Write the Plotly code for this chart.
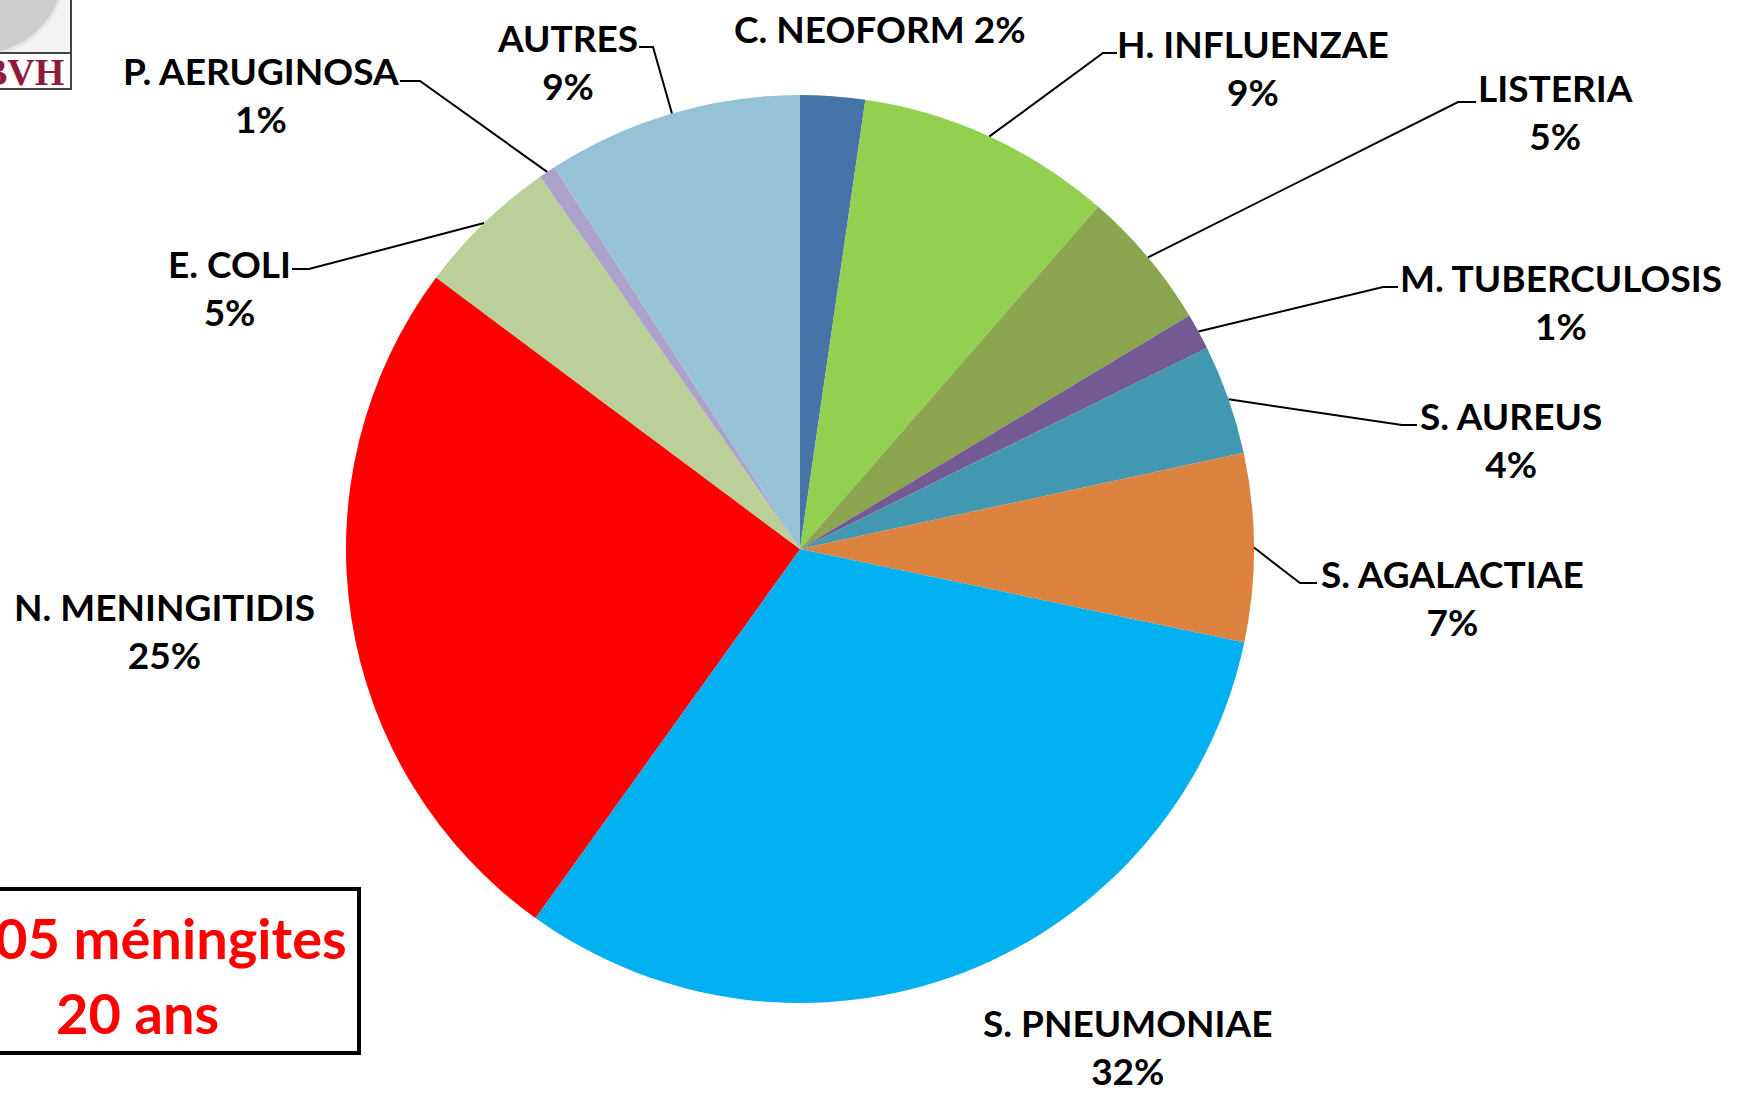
import math
import plotly.graph_objects as go

W, H = 1742, 1096

# ---------------- data ----------------
labels = ["C. NEOFORM", "H. INFLUENZAE", "LISTERIA", "M. TUBERCULOSIS", "S. AUREUS",
          "S. AGALACTIAE", "S. PNEUMONIAE", "N. MENINGITIDIS", "E. COLI",
          "P. AERUGINOSA", "AUTRES"]
values = [2.3, 9.1, 5.0, 1.3, 3.9, 6.7, 31.6, 25.3, 5.1, 0.6, 9.1]
colors = ["#4674A8", "#92D050", "#8BA64F", "#735A93", "#4298B0", "#DC843F",
          "#00B0F0", "#FF0000", "#BBCF98", "#ADA2C9", "#95C3D5"]
box_line1 = "05 méningites"
box_line2 = "20 ans"
logo_text = "BVH"

# ---------------- layout (pixel positions) ----------------
cx, cy, R = 800, 549, 454
# label centre (x, y), single line?, leader (elbow_x, elbow_y, end_x) or None
label_pos = {
    "C. NEOFORM": (880, 29, True, None),
    "H. INFLUENZAE": (1253, 68, False, (1103, 53, 1117)),
    "LISTERIA": (1555, 112, False, (1458, 102, 1476)),
    "M. TUBERCULOSIS": (1561, 301, False, (1383, 287, 1398)),
    "S. AUREUS": (1511, 439, False, (1402, 425, 1417)),
    "S. AGALACTIAE": (1452, 597, False, (1300, 583, 1317)),
    "S. PNEUMONIAE": (1128, 1046, False, None),
    "N. MENINGITIDIS": (164, 630, False, None),
    "E. COLI": (229, 287, False, (309, 269, 292)),
    "P. AERUGINOSA": (261, 94, False, (420, 81, 400)),
    "AUTRES": (567, 61, False, (653, 47, 639)),
}

def px(x):
    return x / W

def py(y):
    return 1 - y / H

total = sum(values)
pcts = [f"{round(v / total * 100)}%" for v in values]

fig = go.Figure(go.Pie(
    labels=labels, values=values, sort=False, direction="clockwise", rotation=0,
    marker=dict(colors=colors, line=dict(width=0)),
    textinfo="none", hoverinfo="skip", showlegend=False,
    domain=dict(x=[px(cx - R), px(cx + R)], y=[py(cy + R), py(cy - R)]),
))

annotations = []
shapes = []
FONT = "Lato, 'Open Sans', sans-serif"
cum = 0.0
for lab, v, pct in zip(labels, values, pcts):
    mid = (cum + v / 2) / total
    cum += v
    lx, ly, single, leader = label_pos[lab]
    text = f"<b>{lab} {pct}</b>" if single else f"<b>{lab}</b><br><b>{pct}</b>"
    annotations.append(dict(x=px(lx), y=py(ly), xref="paper", yref="paper",
                            text=text, showarrow=False, xanchor="center",
                            yanchor="middle", align="center",
                            font=dict(family=FONT, size=37, color="#000000")))
    if leader:
        th = 2 * math.pi * mid
        sx = cx + R * math.sin(th)
        sy = cy - R * math.cos(th)
        ex, ey, hx = leader
        path = (f"M {px(sx)} {py(sy)} L {px(ex)} {py(ey)} L {px(hx)} {py(ey)}")
        shapes.append(dict(type="path", path=path, xref="paper", yref="paper",
                           line=dict(color="#000000", width=2)))

# info box (bottom-left)
shapes.append(dict(type="rect", xref="paper", yref="paper",
                   x0=px(-10), x1=px(359), y0=py(1053), y1=py(889),
                   line=dict(color="#000000", width=4), fillcolor="#FFFFFF"))
annotations.append(dict(x=px(349), y=py(937), xref="paper", yref="paper",
                        text=f"<b>{box_line1}</b>", showarrow=False,
                        xanchor="right", yanchor="middle",
                        font=dict(family=FONT, size=56, color="#FF0000")))
annotations.append(dict(x=px(137), y=py(1012), xref="paper", yref="paper",
                        text=f"<b>{box_line2}</b>", showarrow=False,
                        xanchor="center", yanchor="middle",
                        font=dict(family=FONT, size=56, color="#FF0000")))

# logo (top-left)
shapes.append(dict(type="rect", xref="paper", yref="paper",
                   x0=px(-5), x1=px(71), y0=py(89), y1=py(-5),
                   line=dict(color="#444444", width=2), fillcolor="#F3F3F3"))
shapes.append(dict(type="circle", xref="paper", yref="paper",
                   x0=px(-105), x1=px(65), y0=py(55), y1=py(-115),
                   line=dict(color="#E6E6E6", width=3), fillcolor="#CDCDCD"))
shapes.append(dict(type="rect", xref="paper", yref="paper",
                   x0=px(-5), x1=px(71), y0=py(89), y1=py(53),
                   line=dict(color="#444444", width=2), fillcolor="#FFFFFF"))
annotations.append(dict(x=px(66), y=py(72), xref="paper", yref="paper",
                        text=f"<b>{logo_text}</b>", showarrow=False,
                        xanchor="right", yanchor="middle",
                        font=dict(family="Liberation Serif, serif", size=38,
                                  color="#8E1B3E")))

fig.update_layout(
    width=W, height=H, margin=dict(l=0, r=0, t=0, b=0),
    paper_bgcolor="#FFFFFF", plot_bgcolor="#FFFFFF",
    annotations=annotations, shapes=shapes,
)

fig.write_html("out.html", config={"displayModeBar": False},
               post_script="document.body.style.margin='0px';"
                           "document.body.style.overflow='hidden';")
